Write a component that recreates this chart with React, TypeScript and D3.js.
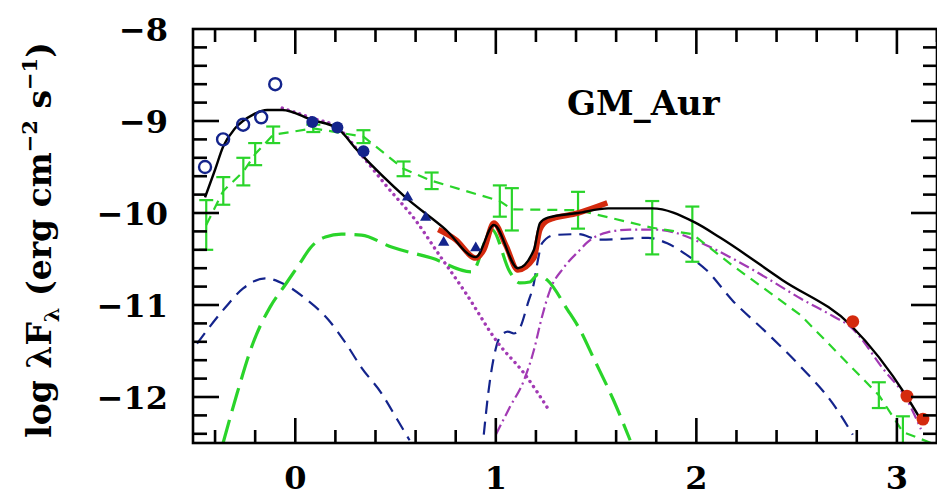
import React from "react";
import * as d3 from "d3";

type P = [number, number];

// ---- data (log lambda [micron], log lambda F_lambda) ----
const xTicksMajor = [0, 1, 2, 3];
const yTicksMajor = [-8, -9, -10, -11, -12];
const xTickLabels = ["0", "1", "2", "3"];
const yTickLabels = ["\u22128", "\u22129", "\u221210", "\u221211", "\u221212"];

const totalModel: P[] = [
  [-0.45, -9.83], [-0.40, -9.53], [-0.36, -9.28], [-0.30, -9.08], [-0.21, -8.93],
  [-0.14, -8.88], [-0.065, -8.88], [0.085, -8.99], [0.21, -9.08], [0.31, -9.32],
  [0.55, -9.83], [0.75, -10.18], [0.90, -10.48], [0.99, -10.13], [1.11, -10.60],
  [1.19, -10.40], [1.22, -10.11], [1.26, -10.05], [1.41, -10.0], [1.56, -9.95],
  [1.78, -9.95], [1.99, -10.10], [2.12, -10.27], [2.43, -10.73], [2.77, -11.22],
  [3.05, -12.0], [3.12, -12.25],
];

const irsSpectrum: P[] = [
  [0.713, -10.18], [0.80, -10.29], [0.90, -10.49], [0.94, -10.40], [0.99, -10.11],
  [1.05, -10.35], [1.11, -10.62], [1.19, -10.49], [1.22, -10.18], [1.26, -10.08],
  [1.41, -10.0], [1.556, -9.89],
];

const medianX = [-0.444, -0.359, -0.259, -0.20, -0.11, 0.09, 0.34, 0.54, 0.68, 1.02, 1.08, 1.41, 1.78, 1.98, 2.18, 2.52, 2.91, 3.03, 3.17];
const medianY = [-10.13, -9.76, -9.55, -9.36, -9.15, -9.08, -9.17, -9.52, -9.65, -9.87, -9.96, -9.97, -10.16, -10.23, -10.57, -11.11, -11.98, -12.38, -12.5];
const medianErr = [0.27, 0.15, 0.15, 0.12, 0.09, 0.04, 0.07, 0.08, 0.09, 0.17, 0.23, 0.2, 0.29, 0.3, 0, 0, 0.14, 0.17, 0];

const innerWall: P[] = [
  [-0.36, -12.5], [-0.29, -11.96], [-0.21, -11.41], [-0.125, -11.02], [-0.05, -10.78],
  [0.025, -10.54], [0.075, -10.38], [0.15, -10.26], [0.23, -10.23], [0.33, -10.24],
  [0.48, -10.37], [0.68, -10.49], [0.88, -10.64], [0.98, -10.18], [1.07, -10.64],
  [1.12, -10.76], [1.17, -10.75], [1.21, -10.67], [1.257, -10.73], [1.357, -11.05],
  [1.42, -11.27], [1.486, -11.57], [1.586, -12.03], [1.67, -12.47],
];

const accretionShock: P[] = [
  [-0.49, -11.42], [-0.35, -11.03], [-0.26, -10.82], [-0.15, -10.71], [-0.05, -10.78],
  [0.05, -10.93], [0.165, -11.16], [0.25, -11.41], [0.33, -11.68], [0.43, -11.96],
  [0.51, -12.25], [0.57, -12.47],
];

const innerDisk: P[] = [
  [0.94, -12.41], [0.96, -12.0], [0.99, -11.57], [1.02, -11.35], [1.06, -11.29],
  [1.09, -11.31], [1.12, -11.25], [1.16, -10.98], [1.19, -10.76], [1.21, -10.51],
  [1.23, -10.33], [1.29, -10.24], [1.41, -10.23], [1.52, -10.29], [1.76, -10.27],
  [1.855, -10.33], [1.955, -10.46], [2.05, -10.62], [2.18, -10.95], [2.35, -11.30],
  [2.52, -11.67], [2.68, -12.07], [2.78, -12.41],
];

const photosphere: P[] = [
  [-0.065, -8.86], [0.085, -8.97], [0.21, -9.07], [0.33, -9.37], [0.46, -9.72],
  [0.60, -10.08], [0.71, -10.43], [0.85, -10.87], [1.01, -11.41], [1.14, -11.74],
  [1.27, -12.16],
];

const outerDisk: P[] = [
  [1.0, -12.41], [1.07, -12.11], [1.14, -11.82], [1.19, -11.49], [1.23, -11.13],
  [1.27, -10.84], [1.34, -10.59], [1.42, -10.40], [1.456, -10.32], [1.556, -10.21],
  [1.67, -10.18], [1.785, -10.18], [1.905, -10.22], [2.02, -10.32], [2.185, -10.50],
  [2.354, -10.71], [2.52, -10.93], [2.68, -11.12], [2.77, -11.24], [2.93, -11.69],
  [3.05, -12.03], [3.12, -12.35],
];

const openCircles: P[] = [[-0.45, -9.5], [-0.36, -9.20], [-0.26, -9.04], [-0.17, -8.96], [-0.10, -8.60]];
const filledCircles: P[] = [[0.085, -9.01], [0.21, -9.07], [0.34, -9.33]];
const triangles: P[] = [[0.56, -9.83], [0.65, -10.05], [0.74, -10.32], [0.90, -10.38]];
const mmPoints: P[] = [[2.78, -11.18], [3.05, -11.99], [3.13, -12.24]];

const GREEN = "#2ad42a";
const BLUE = "#14248c";
const MAGENTA = "#a23ab4";
const RED = "#d42a0e";
const FONT = "'DejaVu Serif', serif";

export default function App() {
  const W = 937, H = 498;
  const L = 193, R = 937, T = 29, B = 443;
  const x = d3.scaleLinear().domain([-0.51, 3.2]).range([L, R]);
  const y = d3.scaleLinear().domain([-12.5, -8]).range([B, T]);

  const line = d3.line<P>().x((d) => x(d[0])).y((d) => y(d[1])).curve(d3.curveMonotoneX);
  const linLine = d3.line<P>().x((d) => x(d[0])).y((d) => y(d[1]));
  const medianPts: P[] = medianX.map((v, i) => [v, medianY[i]]);

  const xMinor = d3.range(-0.4, 3.2001, 0.2).map((v) => Math.round(v * 10) / 10);
  const yMinor = d3.range(-12.4, -8.0001, 0.2).map((v) => Math.round(v * 10) / 10);
  const isInt = (v: number) => Math.abs(v - Math.round(v)) < 1e-6;

  const ticks: JSX.Element[] = [];
  xMinor.forEach((v, i) => {
    const len = isInt(v) ? 25 : 13;
    ticks.push(<line key={"xb" + i} x1={x(v)} x2={x(v)} y1={B} y2={B - len} />);
    ticks.push(<line key={"xt" + i} x1={x(v)} x2={x(v)} y1={T} y2={T + len} />);
  });
  yMinor.forEach((v, i) => {
    const len = isInt(v) ? 26 : 14;
    ticks.push(<line key={"yl" + i} x1={L} x2={L + len} y1={y(v)} y2={y(v)} />);
    ticks.push(<line key={"yr" + i} x1={R} x2={R - len} y1={y(v)} y2={y(v)} />);
  });

  const tri = d3.symbol().type(d3.symbolTriangle).size(55)();
  const pent = d3.symbol().type(d3.symbolCircle).size(130)();

  return (
    <svg width={W} height={H} style={{ position: "absolute", left: 0, top: 0, background: "#fff" }}>
      <defs>
        <clipPath id="plot">
          <rect x={L} y={T} width={R - L} height={B - T} />
        </clipPath>
      </defs>
      <rect x={0} y={0} width={W} height={H} fill="#fff" />
      <g clipPath="url(#plot)" fill="none" strokeLinejoin="round">
        <path d={line(accretionShock) || ""} stroke={BLUE} strokeWidth={2.2} strokeDasharray="13 8" />
        <path d={line(innerDisk) || ""} stroke={BLUE} strokeWidth={2.2} strokeDasharray="13 8" />
        <path d={line(innerWall) || ""} stroke={GREEN} strokeWidth={3.2} strokeDasharray="24 9" />
        <path d={line(photosphere) || ""} stroke={MAGENTA} strokeWidth={3.4} strokeDasharray="0.1 6" strokeLinecap="round" />
        <path d={line(outerDisk) || ""} stroke={MAGENTA} strokeWidth={2.2} strokeDasharray="11 4 2 4" />
        <path d={linLine(medianPts) || ""} stroke={GREEN} strokeWidth={2.2} strokeDasharray="10 7" />
        {medianPts.map((d, i) =>
          medianErr[i] > 0 ? (
            <g key={"eb" + i} stroke={GREEN} strokeWidth={2.2}>
              <line x1={x(d[0])} x2={x(d[0])} y1={y(d[1] - medianErr[i])} y2={y(d[1] + medianErr[i])} />
              <line x1={x(d[0]) - 7} x2={x(d[0]) + 7} y1={y(d[1] - medianErr[i])} y2={y(d[1] - medianErr[i])} />
              <line x1={x(d[0]) - 7} x2={x(d[0]) + 7} y1={y(d[1] + medianErr[i])} y2={y(d[1] + medianErr[i])} />
            </g>
          ) : null
        )}
        <path d={line(irsSpectrum) || ""} stroke={RED} strokeWidth={5.5} />
        <path d={line(totalModel) || ""} stroke="#000" strokeWidth={2.4} />
        {openCircles.map((d, i) => (
          <circle key={"oc" + i} cx={x(d[0])} cy={y(d[1])} r={6} stroke={BLUE} strokeWidth={2.4} fill="none" />
        ))}
        {filledCircles.map((d, i) => (
          <circle key={"fc" + i} cx={x(d[0])} cy={y(d[1])} r={6} fill={BLUE} stroke="none" />
        ))}
        {triangles.map((d, i) => (
          <path key={"tr" + i} d={tri || ""} transform={`translate(${x(d[0])},${y(d[1])})`} fill={BLUE} />
        ))}
        {mmPoints.map((d, i) => (
          <path key={"mm" + i} d={pent || ""} transform={`translate(${x(d[0])},${y(d[1])})`} fill={RED} />
        ))}
      </g>
      <g stroke="#000" strokeWidth={2.6}>{ticks}</g>
      <rect x={L} y={T} width={R - L} height={B - T} fill="none" stroke="#000" strokeWidth={2.6} />
      <g fontFamily={FONT} fontWeight="bold" fontSize={32} fill="#000">
        {xTicksMajor.map((v, i) => (
          <text key={"xl" + i} x={x(v)} y={489} textAnchor="middle">{xTickLabels[i]}</text>
        ))}
        {yTicksMajor.map((v, i) => (
          <text key={"yl" + i} x={168} y={y(v) + 12} textAnchor="end">{yTickLabels[i]}</text>
        ))}
      </g>
      <text x={567} y={115} fontFamily={FONT} fontWeight="bold" fontSize={34} fill="#000">GM_Aur</text>
      <text transform="translate(51,240) rotate(-90)" textAnchor="middle" fontFamily={FONT} fontWeight="bold" fontSize={33} fill="#000">
        log λF
        <tspan fontSize={21} dy={8}>λ</tspan>
        <tspan dy={-8}> (erg cm</tspan>
        <tspan fontSize={21} dy={-14}>−2</tspan>
        <tspan dy={14}> s</tspan>
        <tspan fontSize={21} dy={-14}>−1</tspan>
        <tspan dy={14}>)</tspan>
      </text>
    </svg>
  );
}
